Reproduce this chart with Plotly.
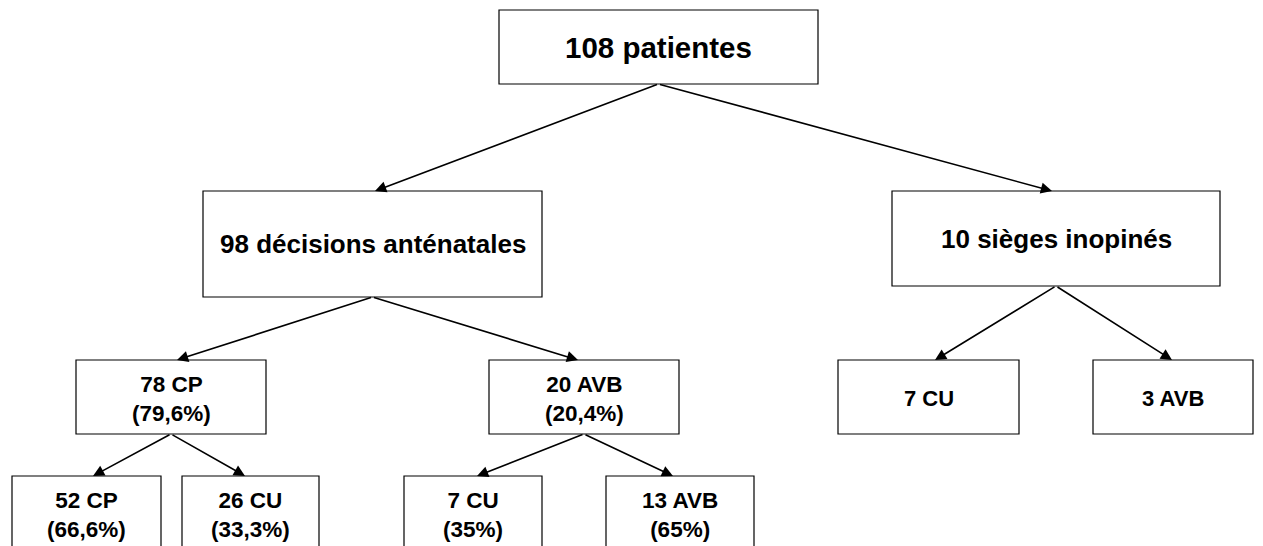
import plotly.graph_objects as go

# ---- data (node contents and tree structure) ----
counts = [108, 98, 10, 78, 20, 7, 3, 52, 26, 7, 13]
names = ["patientes", "décisions anténatales", "sièges inopinés",
         "CP", "AVB", "CU", "AVB", "CP", "CU", "CU", "AVB"]
percents = [None, None, None, "79,6%", "20,4%", None, None,
            "66,6%", "33,3%", "35%", "65%"]
parents = [None, 0, 0, 1, 1, 2, 2, 3, 3, 4, 4]

# ---- layout (pixel boxes: x0, x1, y0, y1) ----
boxes = [
    (499, 818, 10, 84),
    (203, 542, 191, 297),
    (892, 1220, 191, 286),
    (76, 266, 360, 434),
    (489, 679, 360, 434),
    (838, 1019, 360, 434),
    (1093, 1253, 360, 434),
    (12, 161, 476, 560),
    (182, 319, 476, 560),
    (404, 542, 476, 560),
    (606, 754, 476, 560),
]
tip_x = [None, 375, 1052, 177, 578, 935, 1172, 93, 245, 477, 673]
font_sizes = [29.5, 26, 26, 22.5, 22.5, 22, 22, 22.5, 22.5, 22.5, 22.5]
text_y = [47, 244, 239, 399, 399, 398, 398, 515, 515, 515, 515]

W, H = 1263, 546
OFF = 8  # page body margin
fig = go.Figure()
fig.add_trace(go.Scatter(x=[OFF, W], y=[OFF, H], mode="markers",
                         marker=dict(opacity=0), hoverinfo="skip",
                         showlegend=False))

for i, (x0, x1, y0, y1) in enumerate(boxes):
    fig.add_shape(type="rect", x0=x0, x1=x1, y0=y0, y1=y1,
                  xref="x", yref="y",
                  line=dict(color="black", width=1.2),
                  fillcolor="white", layer="below")
    label = f"{counts[i]} {names[i]}"
    if percents[i]:
        label += f"<br>({percents[i]})"
    fig.add_annotation(x=(x0 + x1) / 2, y=text_y[i], text=f"<b>{label}</b>",
                       showarrow=False, xanchor="center", yanchor="middle",
                       font=dict(family="Liberation Sans, Arial", size=font_sizes[i],
                                 color="black"),
                       align="center")

for i, p in enumerate(parents):
    if p is None:
        continue
    px0, px1, py0, py1 = boxes[p]
    fig.add_annotation(x=tip_x[i], y=boxes[i][2], ax=(px0 + px1) / 2, ay=py1,
                       xref="x", yref="y", axref="x", ayref="y",
                       text="", showarrow=True, arrowhead=2, arrowsize=1.4,
                       arrowwidth=1.6, arrowcolor="black", standoff=0)

fig.update_xaxes(range=[OFF, W], visible=False, fixedrange=True)
fig.update_yaxes(range=[H, OFF], visible=False, fixedrange=True)
fig.update_layout(width=W - OFF, height=H - OFF,
                  margin=dict(l=0, r=0, t=0, b=0),
                  plot_bgcolor="white", paper_bgcolor="white",
                  showlegend=False)

fig.write_html("out.html")
